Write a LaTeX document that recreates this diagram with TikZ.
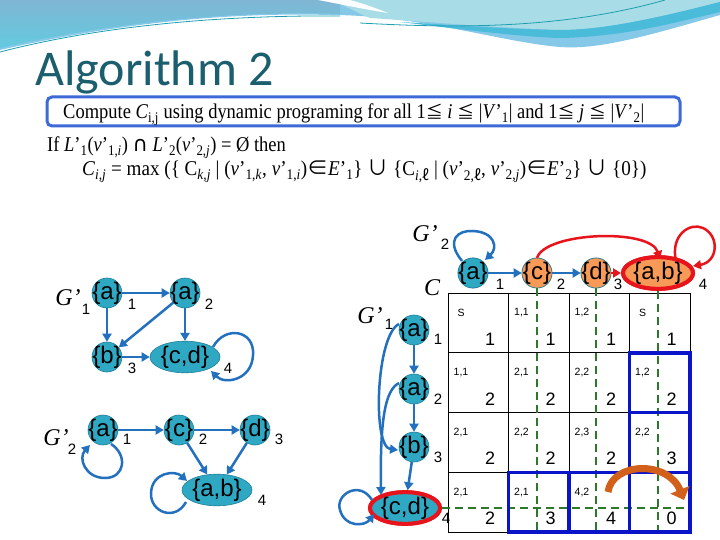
\documentclass[tikz,border=0pt]{standalone}
\usepackage{fontspec}
\setmainfont{Liberation Serif}
\setsansfont{Liberation Sans}
\newfontfamily\titlefont{Carlito}
\newfontfamily\symf{DejaVu Sans}
\newfontfamily\cjk{Noto Sans CJK JP}
\newfontfamily\fmf[FakeStretch=0.88]{Liberation Serif}
\newfontfamily\fmfw[FakeStretch=0.91]{Liberation Serif}
\usetikzlibrary{arrows.meta,shapes.geometric}
\definecolor{tealfill}{HTML}{2FA8C4}
\definecolor{nodeborder}{HTML}{1F7E97}
\definecolor{arrowblue}{HTML}{2370BE}
\definecolor{orangefill}{HTML}{F79A57}
\definecolor{redc}{HTML}{E8141B}
\definecolor{greenc}{HTML}{2A7A2A}
\definecolor{boxblue}{HTML}{0A14C8}
\definecolor{arrorange}{HTML}{D2601A}
\definecolor{titlec}{HTML}{1B5E6E}
\definecolor{fbox}{HTML}{3D6AD6}
\definecolor{hdrbase}{HTML}{86C8E8}
\definecolor{hdrcyan}{HTML}{A8DCE6}
\definecolor{hdrmid}{HTML}{4BBBDA}
\definecolor{hdrtop}{HTML}{80B6D4}
\definecolor{hdrlow}{HTML}{62CADF}
\definecolor{hdrline}{HTML}{1E9FB0}
\newcommand\nl[1]{\makebox[0pt]{#1}}
\newcommand\myleq{{\cjk\fontsize{17}{17}\selectfont ≦}}
\newcommand\myell{{\cjk ℓ}}
\newcommand\myin{{\cjk ∈}}
\newcommand\mycup{{\cjk ∪}}
\tikzset{
  vnode/.style={circle, draw=nodeborder, line width=0.6pt, fill=tealfill, minimum size=30pt, inner sep=0pt, font=\sffamily\fontsize{24}{24}\selectfont},
  onode/.style={vnode, fill=orangefill},
  enode/.style={ellipse, draw=nodeborder, line width=0.6pt, fill=tealfill, minimum width=70pt, minimum height=28pt, inner sep=0pt, font=\sffamily\fontsize{24}{24}\selectfont},
  rednode/.style={draw=redc, line width=4pt},
  num/.style={font=\sffamily\fontsize{15}{15}\selectfont, inner sep=0pt},
  gname/.style={font=\itshape\fontsize{24}{24}\selectfont, inner sep=0pt},
  edge/.style={draw=arrowblue, line width=2.5pt, -{Triangle[length=8pt,width=9pt]}},
  redge/.style={draw=redc, line width=2.5pt, -{Triangle[length=8pt,width=9pt]}},
  small/.style={font=\sffamily\fontsize{10.5}{10.5}\selectfont, inner sep=0pt},
  big/.style={font=\sffamily\fontsize{18}{18}\selectfont, inner sep=0pt},
  gdash/.style={draw=greenc, line width=2.6pt, dash pattern=on 8pt off 5pt},
  bluebox/.style={draw=boxblue, line width=3.5pt},
  gridline/.style={draw=black, line width=0.8pt},
  ftext/.style={anchor=base west, inner sep=0pt, font=\fmf\fontsize{21}{21}\selectfont}
}
\newcommand\cell[5]{\node[small] (s#1) at (#2+13,#3+20) {#4}; \node[big] (n#1) at (#2+42,#3+46) {#5};}
\begin{document}
\begin{tikzpicture}[x=1pt,y=-1pt]
\useasboundingbox (0,0) rectangle (720,540);
\fill[white] (0,0) rectangle (720,540);
% header decoration
\fill[hdrbase] (0,0) -- (720,0) -- (720,15) .. controls (650,35) and (600,50) .. (560,47) .. controls (500,42) and (420,15) .. (330,15) .. controls (220,12) and (110,25) .. (0,50) -- cycle;
\fill[hdrcyan] (330,0) -- (720,0) -- (720,2) .. controls (650,20) and (600,30) .. (560,30) .. controls (500,28) and (430,22) .. (370,18) .. controls (355,12) and (345,5) .. (330,0) -- cycle;
\fill[hdrmid] (720,2) .. controls (650,20) and (600,30) .. (560,30) .. controls (500,29) and (440,24) .. (400,22) .. controls (450,28) and (520,37) .. (560,38) .. controls (620,37) and (670,24) .. (720,12) -- cycle;
\shade[top color=hdrtop, bottom color=hdrlow] (0,0) -- (340,0) -- (340,14) .. controls (220,10) and (100,25) .. (0,48) -- cycle;
\fill[white] (318,0) -- (350,0) .. controls (365,4) and (378,9) .. (388,13) .. controls (362,9) and (340,4) .. (318,0) -- cycle;
\draw[white, line width=1pt] (0,55) .. controls (100,28) and (220,17) .. (340,18);
\draw[hdrline, line width=0.8pt] (0,52) .. controls (100,26) and (220,15) .. (340,16);
\draw[hdrline, line width=0.8pt] (360,23) .. controls (450,28) and (560,30) .. (665,0);
% title
\node[anchor=base west, inner sep=0pt, text=titlec, font=\titlefont\fontsize{50}{50}\selectfont] (title) at (35,86) {Algorithm 2};
% formula box
\draw[fbox, line width=3pt, rounded corners=5pt, fill=white] (47,97) rectangle (680,126);
\node[ftext] (line1) at (63,119) {Compute \textit{C}\textsubscript{i,j} using dynamic programing for all 1\myleq{} \textit{i} \myleq{} |\textit{V}’\textsubscript{1}| and 1\myleq{} \textit{j} \myleq{} |\textit{V}’\textsubscript{2}|};
\node[ftext] (line2) at (47,152) {If \textit{L}’\textsubscript{1}(\textit{v}’\textsubscript{1,\textit{i}}) {\symf∩} \textit{L}’\textsubscript{2}(\textit{v}’\textsubscript{2,\textit{j}}) = Ø then};
\node[ftext, font=\fmfw\fontsize{21}{21}\selectfont] (line3) at (82,176) {\textit{C}\textsubscript{\textit{i,j}} = max (\{ C\textsubscript{\textit{k,j}} | (\textit{v}’\textsubscript{1,\textit{k}}, \textit{v}’\textsubscript{1,\textit{i}})\myin\textit{E}’\textsubscript{1}\} \mycup{} \{C\textsubscript{\textit{i},\myell} | (\textit{v}’\textsubscript{2,\myell}, \textit{v}’\textsubscript{2,\textit{j}})\myin\textit{E}’\textsubscript{2}\} \mycup{} \{0\})};

% ---------- left G'1 ----------
\node[vnode] (A1) at (107,293) {\nl{\{a\}}};
\node[vnode] (A2) at (185,293) {\nl{\{a\}}};
\node[vnode] (B3) at (107,357) {\nl{\{b\}}};
\node[enode, minimum height=30pt] (CD4) at (185,357) {\{c,d\}};
\node[num] (lA1) at (132,304) {1};
\node[num] (lA2) at (209,304) {2};
\node[num] (lB3) at (132,368) {3};
\node[num] (lCD4) at (228,368) {4};
\node[gname] (g1) at (68,298) {G’};
\node[num] (g1s) at (86,309) {1};
\draw[edge] (A1) -- (A2);
\draw[edge] (A1) -- (B3);
\draw[edge] (A2) -- (B3);
\draw[edge] (A2) -- (CD4);
\draw[edge] (B3) -- (CD4);
\coordinate (cdl1) at (213,347);
\coordinate (cdl2) at (211,371);
\draw[edge] (cdl1) .. controls (225,325) and (255,330) .. (253,355) .. controls (252,380) and (225,385) .. (cdl2);

% ---------- left G'2 ----------
\node[vnode] (a1) at (103,430) {\nl{\{a\}}};
\node[vnode] (c2) at (179,430) {\nl{\{c\}}};
\node[vnode] (d3) at (255,430) {\nl{\{d\}}};
\node[enode] (ab4) at (217,490) {\{a,b\}};
\node[num] (la1) at (127,439) {1};
\node[num] (lc2) at (203,439) {2};
\node[num] (ld3) at (279,439) {3};
\node[num] (lab4) at (262,500) {4};
\node[gname] (g2) at (56,438) {G’};
\node[num] (g2s) at (72,449) {2};
\draw[edge] (a1) -- (c2);
\draw[edge] (c2) -- (d3);
\draw[edge] (c2) -- (ab4);
\draw[edge] (d3) -- (ab4);
\coordinate (al1) at (111,444);
\coordinate (al2) at (90,445);
\draw[edge] (al1) .. controls (128,455) and (125,478) .. (105,478) .. controls (85,478) and (78,458) .. (al2);
\coordinate (abl1) at (186,502);
\coordinate (abl2) at (187,481);
\draw[edge] (abl1) .. controls (175,522) and (150,512) .. (151,493) .. controls (152,472) and (175,470) .. (abl2);

% ---------- table ----------
\foreach \xx in {448,508.5,569,629.5,690} \draw[gridline] (\xx,293) -- (\xx,532);
\foreach \yy in {293,352.75,412.5,472.25,532} \draw[gridline] (448,\yy) -- (690,\yy);
\cell{11}{448}{293}{S}{1}
\cell{12}{508.5}{293}{1,1}{1}
\cell{13}{569}{293}{1,2}{1}
\cell{14}{629.5}{293}{S}{1}
\cell{21}{448}{352.75}{1,1}{2}
\cell{22}{508.5}{352.75}{2,1}{2}
\cell{23}{569}{352.75}{2,2}{2}
\cell{24}{629.5}{352.75}{1,2}{2}
\cell{31}{448}{412.5}{2,1}{2}
\cell{32}{508.5}{412.5}{2,2}{2}
\cell{33}{569}{412.5}{2,3}{2}
\cell{34}{629.5}{412.5}{2,2}{3}
\cell{41}{448}{472.25}{2,1}{2}
\cell{42}{508.5}{472.25}{2,1}{3}
\cell{43}{569}{472.25}{4,2}{4}
\cell{44}{629.5}{472.25}{}{0}

% header graph G'2 (top)
\node[vnode] (ha) at (473,273) {\nl{\{a\}}};
\node[onode] (hc) at (537,273) {\nl{\{c\}}};
\node[onode] (hd) at (596,273) {\nl{\{d\}}};
\node[enode, fill=orangefill, rednode] (hab) at (658,273) {\{a,b\}};
% side graph G'1
\node[vnode] (va1) at (414,330) {\nl{\{a\}}};
\node[vnode] (va2) at (414,389) {\nl{\{a\}}};
\node[vnode] (vb3) at (414,447) {\nl{\{b\}}};
\node[enode, rednode, minimum height=27pt] (vcd) at (405,508) {\{c,d\}};

% green dashed guides
\coordinate (bot) at (0,532);
\coordinate (rgt) at (690,0);
\draw[gdash] (hc.south) -- (hc.south |- bot);
\draw[gdash] (hd.south) -- (hd.south |- bot);
\draw[gdash] (hab.south) -- (hab.south |- bot);
\draw[gdash] (vcd.east) -- (vcd.east -| rgt);

% blue boxes
\draw[bluebox] (629.5,352.75) rectangle (690,412.5);
\draw[bluebox] (629.5,412.5) rectangle (690,472.25);
\draw[bluebox] (508.5,472.25) rectangle (569,532);
\draw[bluebox] (569,472.25) rectangle (629.5,532);
\draw[bluebox] (629.5,472.25) rectangle (690,532);

% orange curved arrow
\coordinate (oa1) at (608,492);
\coordinate (oa2) at (684,500);
\draw[arrorange, line width=7pt, -{Triangle[length=11pt,width=20pt]}] (oa1) .. controls (612,462) and (668,460) .. (oa2);

% redraw nodes on top
\node[vnode] at (ha) {\nl{\{a\}}};
\node[onode] at (hc) {\nl{\{c\}}};
\node[onode] at (hd) {\nl{\{d\}}};
\node[enode, fill=orangefill, rednode] at (hab) {\{a,b\}};
\node[enode, rednode, minimum height=27pt] at (vcd) {\{c,d\}};

\node[num] (lha) at (500,284) {1};
\node[num] (lhc) at (561,284) {2};
\node[num] (lhd) at (618,284) {3};
\node[num] (lhab) at (703,284) {4};
\node[gname] (hg) at (425,234) {G’};
\node[num] (hgs) at (445,244) {2};
\node[gname] (Clab) at (432,288) {C};
\node[num] (lva1) at (438,339) {1};
\node[num] (lva2) at (438,399) {2};
\node[num] (lvb3) at (438,457) {3};
\node[num] (lvcd) at (446,518) {4};
\node[gname] (vg) at (370,316) {G’};
\node[num] (vgs) at (389,324) {1};

\draw[edge] (ha) -- (hc);
\draw[edge] (hc) -- (hd);
\draw[redge] (hd) -- (hab);
\coordinate (hcr1) at (537,258);
\coordinate (hcr2) at (660,259);
\draw[redge] (hcr1) .. controls (545,232) and (650,228) .. (hcr2);
\coordinate (hal1) at (462,261);
\coordinate (hal2) at (485,260);
\draw[edge] (hal1) .. controls (445,240) and (458,230) .. (473,231) .. controls (495,232) and (498,248) .. (hal2);
\coordinate (habl1) at (676,261);
\coordinate (habl2) at (693,266);
\draw[redge] (habl1) .. controls (670,235) and (690,222) .. (703,228) .. controls (720,236) and (718,262) .. (habl2);

\draw[edge] (va1) -- (va2);
\draw[edge] (va2) -- (vb3);
\draw[edge] (vb3) -- (vcd);
\coordinate (v13a) at (399,324);
\coordinate (v13b) at (398,450);
\draw[edge] (v13a) .. controls (376,335) and (372,447) .. (v13b);
\coordinate (v24a) at (399,383);
\coordinate (v24b) at (381,495);
\draw[edge] (v24a) .. controls (385,390) and (380,420) .. (v24b);
\coordinate (vcl1) at (372,500);
\coordinate (vcl2) at (374,514);
\draw[edge] (vcl1) .. controls (360,480) and (335,494) .. (340,510) .. controls (345,528) and (365,526) .. (vcl2);
\end{tikzpicture}
\end{document}
